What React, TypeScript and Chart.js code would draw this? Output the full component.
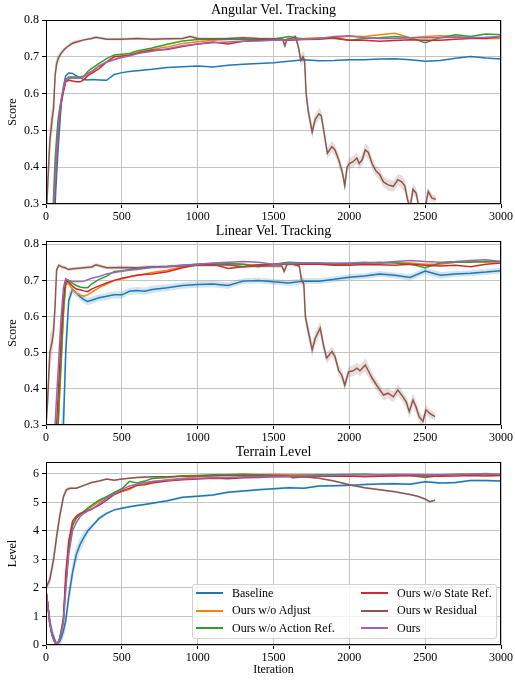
import React, { useEffect, useRef } from "react";
import { Chart, registerables } from "chart.js";

Chart.register(...registerables);

const FONT = "'Liberation Serif', 'Times New Roman', serif";
const GRID = "#c4c4c4";

const SERIES = ["Baseline", "Ours w/o Adjust", "Ours w/o Action Ref.", "Ours w/o State Ref.", "Ours w Residual", "Ours"];
const COLORS = ["#1f77b4", "#ff7f0e", "#2ca02c", "#d62728", "#8c564b", "#9467bd"];
const BAND_COLORS = ["rgba(31,119,180,0.2)", "rgba(255,127,14,0.2)", "rgba(44,160,44,0.2)", "rgba(214,39,40,0.2)", "rgba(140,86,75,0.2)", "rgba(148,103,189,0.2)"];

const X_TICKS = [0, 500, 1000, 1500, 2000, 2500, 3000];
const SCORE_TICKS = [0.3, 0.4, 0.5, 0.6, 0.7, 0.8];
const LEVEL_TICKS = [0, 1, 2, 3, 4, 5, 6];

const ITER = [
  0, 10, 25, 40, 50, 60, 70, 80, 90, 100,
  115, 130, 150, 175, 200, 225, 250, 275, 300, 350,
  400, 450, 500, 550, 600, 650, 700, 800, 900, 1000,
  1100, 1200, 1300, 1400, 1500, 1600, 1700, 1800, 1900, 2000,
  2100, 2200, 2300, 2400, 2500, 2600, 2700, 2800, 2900, 3000,
];

// ---------- Angular Vel. Tracking ----------
const ANG_BASELINE = [
  0.05, 0.05, 0.08, 0.15, 0.22, 0.3, 0.38, 0.45, 0.51, 0.57,
  0.62, 0.648, 0.656, 0.655, 0.648, 0.643, 0.638, 0.637, 0.638, 0.637,
  0.636, 0.652, 0.657, 0.66, 0.662, 0.664, 0.666, 0.671, 0.673, 0.675,
  0.672, 0.677, 0.68, 0.682, 0.684, 0.688, 0.692, 0.689, 0.69, 0.692,
  0.692, 0.694, 0.695, 0.692, 0.688, 0.69, 0.696, 0.701, 0.697, 0.694,
];
const ANG_ADJUST = [
  0.05, 0.05, 0.06, 0.15, 0.28, 0.36, 0.43, 0.5, 0.55, 0.58,
  0.61, 0.635, 0.64, 0.642, 0.642, 0.643, 0.645, 0.652, 0.66, 0.675,
  0.686, 0.693, 0.7, 0.705, 0.712, 0.715, 0.72, 0.727, 0.736, 0.741,
  0.745, 0.747, 0.747, 0.746, 0.747, 0.748, 0.75, 0.752, 0.752, 0.756,
  0.755, 0.76, 0.764, 0.752, 0.755, 0.757, 0.755, 0.752, 0.75, 0.75,
];
const ANG_ACTION = [
  0.05, 0.05, 0.07, 0.2, 0.32, 0.42, 0.48, 0.53, 0.56, 0.58,
  0.61, 0.638, 0.645, 0.645, 0.645, 0.645, 0.648, 0.66, 0.668, 0.682,
  0.695, 0.705, 0.707, 0.709, 0.716, 0.72, 0.724, 0.734, 0.743, 0.747,
  0.748, 0.748, 0.748, 0.748, 0.748, 0.755, 0.748, 0.75, 0.75, 0.745,
  0.75, 0.752, 0.755, 0.752, 0.738, 0.752, 0.76, 0.755, 0.762, 0.76,
];
const ANG_STATE = [
  0.05, 0.05, 0.06, 0.12, 0.26, 0.34, 0.42, 0.49, 0.54, 0.575,
  0.605, 0.632, 0.636, 0.634, 0.632, 0.632, 0.638, 0.648, 0.655, 0.668,
  0.686, 0.7, 0.702, 0.704, 0.71, 0.715, 0.718, 0.72, 0.728, 0.735,
  0.74, 0.735, 0.742, 0.745, 0.746, 0.745, 0.747, 0.748, 0.752, 0.745,
  0.745, 0.742, 0.744, 0.746, 0.745, 0.745, 0.748, 0.75, 0.75, 0.755,
];
const ANG_OURS = [
  0.05, 0.05, 0.06, 0.15, 0.28, 0.36, 0.44, 0.5, 0.55, 0.585,
  0.615, 0.638, 0.642, 0.643, 0.642, 0.642, 0.648, 0.655, 0.66, 0.675,
  0.686, 0.692, 0.698, 0.702, 0.708, 0.712, 0.715, 0.722, 0.73, 0.735,
  0.738, 0.74, 0.742, 0.743, 0.745, 0.746, 0.748, 0.75, 0.755, 0.757,
  0.752, 0.75, 0.75, 0.752, 0.752, 0.752, 0.753, 0.752, 0.753, 0.755,
];
const ANG_RESIDUAL_X = [
  0, 10, 25, 40, 50, 60, 70, 80, 100, 125,
  150, 175, 200, 250, 300, 330, 400, 500, 600, 700,
  800, 900, 950, 1000, 1100, 1200, 1300, 1400, 1500, 1560,
  1575, 1590, 1620, 1645, 1665, 1680, 1695, 1705, 1715, 1730,
  1755, 1775, 1800, 1815, 1835, 1855, 1885, 1905, 1930, 1955,
  1970, 1985, 2000, 2025, 2050, 2065, 2085, 2105, 2125, 2150,
  2175, 2200, 2225, 2255, 2290, 2320, 2345, 2365, 2385, 2400,
  2420, 2440, 2460, 2480, 2500, 2520, 2545, 2570,
];
const ANG_RESIDUAL = [
  0.25, 0.34, 0.47, 0.53, 0.56, 0.65, 0.68, 0.695, 0.71, 0.722,
  0.73, 0.737, 0.74, 0.746, 0.75, 0.753, 0.748, 0.748, 0.75, 0.748,
  0.749, 0.75, 0.755, 0.75, 0.749, 0.75, 0.752, 0.75, 0.749, 0.748,
  0.73, 0.748, 0.75, 0.755, 0.725, 0.69, 0.7, 0.69, 0.6, 0.55,
  0.496, 0.53, 0.545, 0.54, 0.49, 0.438, 0.456, 0.447, 0.42, 0.384,
  0.35, 0.4, 0.41, 0.415, 0.425, 0.41, 0.42, 0.447, 0.44, 0.41,
  0.39, 0.38, 0.36, 0.352, 0.348, 0.366, 0.36, 0.35, 0.31, 0.29,
  0.34, 0.33, 0.29, 0.27, 0.29, 0.334, 0.316, 0.313,
];
// half-width of the shaded band around "Ours w Residual"
const ANG_RESIDUAL_BAND = [
  0.04, 0.05, 0.05, 0.04, 0.04, 0.03, 0.02, 0.012, 0.008, 0.006,
  0.005, 0.005, 0.005, 0.004, 0.004, 0.004, 0.004, 0.004, 0.004, 0.004,
  0.004, 0.004, 0.004, 0.004, 0.004, 0.004, 0.004, 0.004, 0.004, 0.006,
  0.01, 0.006, 0.005, 0.006, 0.012, 0.015, 0.015, 0.02, 0.02, 0.02,
  0.018, 0.015, 0.015, 0.015, 0.015, 0.015, 0.015, 0.015, 0.015, 0.015,
  0.015, 0.015, 0.015, 0.015, 0.015, 0.015, 0.015, 0.018, 0.018, 0.015,
  0.015, 0.015, 0.015, 0.015, 0.015, 0.015, 0.018, 0.018, 0.018, 0.018,
  0.015, 0.015, 0.015, 0.015, 0.015, 0.012, 0.01, 0.01,
];

// ---------- Linear Vel. Tracking ----------
const LIN_BASELINE = [
  0.05, 0.05, 0.05, 0.05, 0.06, 0.08, 0.1, 0.14, 0.18, 0.23,
  0.3, 0.5, 0.645, 0.675, 0.665, 0.655, 0.647, 0.642, 0.645, 0.652,
  0.656, 0.66, 0.66, 0.67, 0.672, 0.67, 0.675, 0.68, 0.686, 0.689,
  0.69, 0.686, 0.698, 0.7, 0.696, 0.693, 0.698, 0.698, 0.703, 0.709,
  0.712, 0.718, 0.714, 0.708, 0.726, 0.714, 0.718, 0.72, 0.723, 0.727,
];
const LIN_BASELINE_BAND = [
  0.02, 0.02, 0.02, 0.02, 0.03, 0.04, 0.05, 0.06, 0.07, 0.08,
  0.08, 0.06, 0.02, 0.012, 0.01, 0.01, 0.01, 0.01, 0.01, 0.01,
  0.01, 0.01, 0.01, 0.01, 0.01, 0.01, 0.01, 0.009, 0.009, 0.009,
  0.009, 0.009, 0.008, 0.008, 0.008, 0.008, 0.008, 0.008, 0.008, 0.008,
  0.008, 0.008, 0.008, 0.009, 0.009, 0.009, 0.008, 0.008, 0.008, 0.008,
];
const LIN_ADJUST = [
  0.05, 0.05, 0.05, 0.05, 0.08, 0.14, 0.22, 0.3, 0.38, 0.47,
  0.6, 0.69, 0.69, 0.675, 0.665, 0.66, 0.656, 0.66, 0.667, 0.68,
  0.69, 0.7, 0.704, 0.71, 0.714, 0.718, 0.722, 0.728, 0.738, 0.745,
  0.746, 0.748, 0.745, 0.742, 0.745, 0.748, 0.748, 0.747, 0.745, 0.745,
  0.748, 0.747, 0.75, 0.748, 0.745, 0.745, 0.75, 0.752, 0.75, 0.752,
];
const LIN_ACTION = [
  0.05, 0.05, 0.05, 0.05, 0.06, 0.1, 0.16, 0.3, 0.4, 0.48,
  0.62, 0.69, 0.7, 0.692, 0.686, 0.682, 0.68, 0.68, 0.69, 0.703,
  0.712, 0.725, 0.727, 0.73, 0.734, 0.735, 0.737, 0.739, 0.742, 0.745,
  0.745, 0.746, 0.745, 0.738, 0.745, 0.75, 0.748, 0.748, 0.745, 0.747,
  0.748, 0.75, 0.748, 0.745, 0.735, 0.748, 0.75, 0.75, 0.752, 0.752,
];
const LIN_STATE = [
  0.05, 0.05, 0.05, 0.05, 0.08, 0.15, 0.3, 0.38, 0.46, 0.55,
  0.65, 0.7, 0.695, 0.684, 0.676, 0.674, 0.671, 0.669, 0.676, 0.685,
  0.693, 0.7, 0.706, 0.71, 0.714, 0.716, 0.718, 0.724, 0.735, 0.743,
  0.745, 0.733, 0.738, 0.743, 0.745, 0.745, 0.745, 0.745, 0.742, 0.742,
  0.744, 0.743, 0.742, 0.745, 0.742, 0.74, 0.742, 0.738, 0.745, 0.748,
];
const LIN_OURS = [
  0.05, 0.05, 0.05, 0.05, 0.15, 0.3, 0.38, 0.45, 0.53, 0.6,
  0.68, 0.705, 0.7, 0.697, 0.697, 0.697, 0.698, 0.702, 0.706, 0.711,
  0.718, 0.722, 0.725, 0.728, 0.73, 0.733, 0.736, 0.738, 0.742, 0.745,
  0.748, 0.75, 0.752, 0.75, 0.745, 0.747, 0.748, 0.748, 0.748, 0.748,
  0.75, 0.748, 0.752, 0.755, 0.752, 0.75, 0.752, 0.755, 0.757, 0.752,
];
const LIN_RESIDUAL_X = [
  0, 10, 25, 40, 50, 60, 70, 85, 100, 125,
  150, 175, 200, 250, 300, 330, 400, 500, 600, 700,
  800, 900, 1000, 1100, 1200, 1300, 1400, 1500, 1555, 1570,
  1590, 1620, 1650, 1670, 1685, 1700, 1710, 1730, 1755, 1775,
  1808, 1830, 1850, 1885, 1905, 1930, 1950, 1970, 1995, 2025,
  2050, 2070, 2105, 2125, 2150, 2180, 2225, 2255, 2290, 2320,
  2350, 2375, 2395, 2420, 2440, 2460, 2485, 2505, 2530, 2565,
];
const LIN_RESIDUAL = [
  0.3, 0.36, 0.5, 0.53, 0.56, 0.63, 0.73, 0.742, 0.738, 0.735,
  0.73, 0.732, 0.733, 0.735, 0.737, 0.743, 0.735, 0.736, 0.735, 0.738,
  0.738, 0.74, 0.742, 0.742, 0.743, 0.738, 0.74, 0.74, 0.74, 0.725,
  0.745, 0.745, 0.742, 0.74, 0.7, 0.69, 0.6, 0.558, 0.508, 0.54,
  0.568, 0.52, 0.485, 0.503, 0.49, 0.45, 0.438, 0.41, 0.447, 0.45,
  0.457, 0.45, 0.466, 0.45, 0.43, 0.41, 0.383, 0.388, 0.378, 0.397,
  0.38, 0.364, 0.337, 0.369, 0.35, 0.323, 0.31, 0.342, 0.332, 0.323,
];
const LIN_RESIDUAL_BAND = [
  0.04, 0.05, 0.05, 0.04, 0.04, 0.03, 0.01, 0.006, 0.005, 0.005,
  0.005, 0.005, 0.005, 0.005, 0.005, 0.005, 0.005, 0.005, 0.005, 0.005,
  0.005, 0.005, 0.005, 0.005, 0.005, 0.005, 0.005, 0.005, 0.006, 0.01,
  0.006, 0.005, 0.005, 0.006, 0.012, 0.015, 0.02, 0.02, 0.02, 0.018,
  0.018, 0.015, 0.015, 0.015, 0.015, 0.015, 0.015, 0.015, 0.015, 0.015,
  0.015, 0.015, 0.018, 0.018, 0.015, 0.015, 0.015, 0.015, 0.015, 0.015,
  0.015, 0.015, 0.018, 0.018, 0.018, 0.015, 0.015, 0.015, 0.012, 0.01,
];

// ---------- Terrain Level ----------
const LEVEL_BASELINE = [
  1.9, 1.5, 0.85, 0.45, 0.3, 0.15, 0.06, 0.07, 0.12, 0.25,
  0.5, 0.85, 1.7, 2.55, 3.18, 3.53, 3.78, 4.0, 4.15, 4.44,
  4.62, 4.74, 4.8, 4.85, 4.89, 4.93, 4.97, 5.06, 5.18, 5.22,
  5.26, 5.36, 5.4, 5.45, 5.48, 5.52, 5.5, 5.58, 5.59, 5.6,
  5.63, 5.65, 5.66, 5.64, 5.73, 5.68, 5.7, 5.77, 5.77, 5.75,
];
const LEVEL_ADJUST = [
  1.9, 1.5, 0.75, 0.35, 0.2, 0.08, 0.05, 0.08, 0.2, 0.45,
  0.9, 2.2, 3.4, 4.2, 4.45, 4.58, 4.7, 4.78, 4.85, 5.03,
  5.2, 5.3, 5.38, 5.45, 5.6, 5.66, 5.73, 5.8, 5.85, 5.9,
  5.93, 5.97, 6.0, 5.97, 5.98, 5.97, 5.97, 5.96, 5.97, 5.98,
  5.98, 5.97, 5.98, 5.97, 5.95, 5.97, 5.99, 6.0, 5.98, 5.98,
];
const LEVEL_ACTION = [
  1.9, 1.5, 0.75, 0.35, 0.2, 0.08, 0.06, 0.1, 0.25, 0.5,
  0.95, 2.1, 3.3, 4.2, 4.45, 4.57, 4.68, 4.8, 4.9, 5.08,
  5.2, 5.35, 5.48, 5.74, 5.68, 5.75, 5.84, 5.88, 5.94, 5.95,
  5.97, 5.97, 5.98, 5.97, 5.95, 5.93, 5.95, 5.97, 5.97, 5.98,
  5.99, 5.96, 5.95, 5.95, 5.88, 5.95, 5.98, 5.99, 5.98, 5.98,
];
const LEVEL_STATE = [
  1.9, 1.5, 0.75, 0.35, 0.2, 0.08, 0.05, 0.08, 0.2, 0.45,
  0.9, 2.5, 3.65, 4.35, 4.52, 4.62, 4.66, 4.72, 4.77, 4.9,
  5.08, 5.28, 5.4, 5.5, 5.6, 5.62, 5.68, 5.75, 5.8, 5.82,
  5.85, 5.83, 5.87, 5.88, 5.9, 5.9, 5.9, 5.92, 5.92, 5.93,
  5.9, 5.92, 5.93, 5.95, 5.93, 5.92, 5.93, 5.95, 5.93, 5.95,
];
const LEVEL_OURS = [
  1.9, 1.5, 0.75, 0.35, 0.2, 0.08, 0.06, 0.1, 0.22, 0.4,
  0.8, 1.9, 3.2, 4.0, 4.3, 4.5, 4.62, 4.7, 4.75, 4.95,
  5.15, 5.3, 5.45, 5.58, 5.64, 5.7, 5.74, 5.78, 5.82, 5.85,
  5.87, 5.88, 5.9, 5.9, 5.9, 5.92, 5.93, 5.95, 5.95, 5.96,
  5.97, 5.97, 5.98, 5.98, 5.97, 5.97, 5.98, 5.99, 6.02, 5.98,
];
const LEVEL_RESIDUAL_X = [
  0, 25, 50, 70, 90, 115, 135, 160, 200, 250,
  300, 350, 400, 450, 500, 600, 700, 800, 900, 1000,
  1200, 1400, 1600, 1625, 1700, 1800, 1900, 2000, 2100, 2200,
  2300, 2400, 2450, 2500, 2530, 2565,
];
const LEVEL_RESIDUAL = [
  2.0, 2.3, 3.0, 3.8, 4.5, 5.2, 5.45, 5.5, 5.5, 5.6,
  5.7, 5.75, 5.82, 5.78, 5.82, 5.88, 5.9, 5.9, 5.92, 5.93,
  5.95, 5.95, 5.95, 5.87, 5.9, 5.85, 5.75, 5.62, 5.52, 5.45,
  5.38, 5.28, 5.22, 5.12, 5.03, 5.08,
];
const LEVEL_RESIDUAL_BAND = [
  0.1, 0.2, 0.3, 0.3, 0.25, 0.15, 0.08, 0.05, 0.04, 0.03,
  0.03, 0.03, 0.03, 0.03, 0.03, 0.03, 0.03, 0.03, 0.03, 0.03,
  0.03, 0.03, 0.03, 0.03, 0.03, 0.03, 0.03, 0.03, 0.03, 0.03,
  0.03, 0.03, 0.03, 0.03, 0.03, 0.03,
];
const LEVEL_BASELINE_BAND = [
  0.1, 0.15, 0.2, 0.2, 0.15, 0.1, 0.08, 0.1, 0.15, 0.2,
  0.25, 0.3, 0.35, 0.35, 0.3, 0.25, 0.2, 0.12, 0.08, 0.06,
  0.05, 0.04, 0.04, 0.04, 0.04, 0.04, 0.04, 0.04, 0.04, 0.04,
  0.04, 0.04, 0.04, 0.04, 0.04, 0.04, 0.04, 0.04, 0.04, 0.04,
  0.04, 0.04, 0.04, 0.04, 0.04, 0.04, 0.04, 0.04, 0.04, 0.04,
];

type Line = { xs: number[]; ys: number[]; band?: number[] };

const framePlugin = {
  id: "frame",
  afterDraw(chart: any) {
    const { ctx, chartArea: a } = chart;
    ctx.save();
    ctx.strokeStyle = "#000";
    ctx.lineWidth = 1;
    ctx.strokeRect(a.left + 0.5, a.top + 0.5, a.right - a.left - 1, a.bottom - a.top - 1);
    ctx.restore();
  },
};

type PanelProps = {
  top: number;
  height: number;
  title: string;
  titlePad: number;
  yTitle: string;
  yMin: number;
  yMax: number;
  yTicks: number[];
  yDigits: number;
  axisH: number;
  xTitle?: string;
  lines: Line[];
};

function buildDatasets(lines: Line[]) {
  const out: any[] = [];
  lines.forEach((l, i) => {
    if (l.band) {
      const band = l.band;
      out.push({
        label: SERIES[i] + " upper",
        data: l.xs.map((x, k) => ({ x, y: l.ys[k] + band[k] })),
        borderWidth: 0,
        borderColor: "rgba(0,0,0,0)",
        pointRadius: 0,
        fill: false,
        order: 100,
      });
      out.push({
        label: SERIES[i] + " lower",
        data: l.xs.map((x, k) => ({ x, y: l.ys[k] - band[k] })),
        borderWidth: 0,
        borderColor: "rgba(0,0,0,0)",
        backgroundColor: BAND_COLORS[i],
        pointRadius: 0,
        fill: "-1",
        order: 100,
      });
    }
  });
  lines.forEach((l, i) => {
    out.push({
      label: SERIES[i],
      data: l.xs.map((x, k) => ({ x, y: l.ys[k] })),
      borderColor: COLORS[i],
      backgroundColor: COLORS[i],
      borderWidth: 1.5,
      pointRadius: 0,
      tension: 0,
      fill: false,
      order: lines.length - i,
    });
  });
  return out;
}

function Panel(p: PanelProps) {
  const ref = useRef<HTMLCanvasElement>(null);
  useEffect(() => {
    const tickFont = { family: FONT, size: 12 };
    const chart = new Chart(ref.current as HTMLCanvasElement, {
      type: "line",
      data: { datasets: buildDatasets(p.lines) },
      options: {
        responsive: false,
        animation: false,
        devicePixelRatio: 1,
        layout: { padding: { left: 0, right: 12, top: 0, bottom: 0 } },
        plugins: {
          legend: { display: false },
          tooltip: { enabled: false },
          filler: { propagate: false },
          title: {
            display: true,
            text: p.title,
            fullSize: false,
            color: "#000",
            font: { family: FONT, size: 14, weight: "normal", lineHeight: 1.2 },
            padding: { top: p.titlePad, bottom: p.titlePad },
          },
        },
        scales: {
          x: {
            type: "linear",
            min: 0,
            max: 3000,
            afterBuildTicks: (s: any) => {
              s.ticks = X_TICKS.map((v) => ({ value: v }));
            },
            afterFit: (s: any) => {
              s.height = p.axisH;
            },
            border: { display: false },
            grid: { color: GRID, lineWidth: 1, tickColor: "#000", tickLength: 4, tickWidth: 1 },
            ticks: {
              color: "#000",
              font: tickFont,
              padding: 2,
              maxRotation: 0,
              autoSkip: false,
              callback: (v: any) => String(v),
            },
            title: p.xTitle
              ? { display: true, text: p.xTitle, color: "#000", font: tickFont, padding: { top: 0, bottom: 4 } }
              : { display: false },
          },
          y: {
            type: "linear",
            min: p.yMin,
            max: p.yMax,
            afterBuildTicks: (s: any) => {
              s.ticks = p.yTicks.map((v) => ({ value: v }));
            },
            afterFit: (s: any) => {
              s.width = 46;
            },
            border: { display: false },
            grid: { color: GRID, lineWidth: 1, tickColor: "#000", tickLength: 4, tickWidth: 1 },
            ticks: {
              color: "#000",
              font: tickFont,
              padding: 3,
              autoSkip: false,
              callback: (v: any) => Number(v).toFixed(p.yDigits),
            },
            title: { display: true, text: p.yTitle, color: "#000", font: tickFont, padding: { top: 6, bottom: 0 } },
          },
        },
      } as any,
      plugins: [framePlugin],
    });
    return () => chart.destroy();
  }, []);
  return (
    <canvas
      ref={ref}
      width={515}
      height={p.height}
      style={{ position: "absolute", left: 0, top: p.top, display: "block" }}
    />
  );
}

function Legend() {
  return (
    <div
      style={{
        position: "absolute",
        left: 192,
        top: 584,
        width: 305,
        height: 55,
        boxSizing: "border-box",
        border: "1px solid #d3d3d3",
        borderRadius: 3,
        background: "rgba(255,255,255,0.8)",
        fontFamily: FONT,
        fontSize: 12,
        color: "#000",
      }}
    >
      {SERIES.map((name, i) => {
        const col = Math.floor(i / 3);
        const row = i % 3;
        return (
          <div
            key={name}
            style={{
              position: "absolute",
              left: col === 0 ? 3 : 168,
              top: -0.75 + row * 17.5,
              height: 17.5,
              display: "flex",
              alignItems: "center",
              whiteSpace: "nowrap",
            }}
          >
            <span style={{ display: "inline-block", width: 27, height: 2, background: COLORS[i], marginRight: 9 }} />
            <span>{name}</span>
          </div>
        );
      })}
    </div>
  );
}

export default function App() {
  const ang: Line[] = [
    { xs: ITER, ys: ANG_BASELINE },
    { xs: ITER, ys: ANG_ADJUST },
    { xs: ITER, ys: ANG_ACTION },
    { xs: ITER, ys: ANG_STATE },
    { xs: ANG_RESIDUAL_X, ys: ANG_RESIDUAL, band: ANG_RESIDUAL_BAND },
    { xs: ITER, ys: ANG_OURS },
  ];
  const lin: Line[] = [
    { xs: ITER, ys: LIN_BASELINE, band: LIN_BASELINE_BAND },
    { xs: ITER, ys: LIN_ADJUST },
    { xs: ITER, ys: LIN_ACTION },
    { xs: ITER, ys: LIN_STATE },
    { xs: LIN_RESIDUAL_X, ys: LIN_RESIDUAL, band: LIN_RESIDUAL_BAND },
    { xs: ITER, ys: LIN_OURS },
  ];
  const lvl: Line[] = [
    { xs: ITER, ys: LEVEL_BASELINE, band: LEVEL_BASELINE_BAND },
    { xs: ITER, ys: LEVEL_ADJUST },
    { xs: ITER, ys: LEVEL_ACTION },
    { xs: ITER, ys: LEVEL_STATE },
    { xs: LEVEL_RESIDUAL_X, ys: LEVEL_RESIDUAL, band: LEVEL_RESIDUAL_BAND },
    { xs: ITER, ys: LEVEL_OURS },
  ];
  return (
    <div style={{ position: "absolute", left: 0, top: 0, width: 515, height: 681, background: "#fff", overflow: "hidden" }}>
      <Panel top={0} height={222} title="Angular Vel. Tracking" titlePad={1.6} yTitle="Score" yMin={0.3} yMax={0.8} yTicks={SCORE_TICKS} yDigits={1} axisH={18} lines={ang} />
      <Panel top={222} height={221} title="Linear Vel. Tracking" titlePad={1.1} yTitle="Score" yMin={0.3} yMax={0.809} yTicks={SCORE_TICKS} yDigits={1} axisH={18} lines={lin} />
      <Panel top={443} height={238} title="Terrain Level" titlePad={1.1} yTitle="Level" yMin={0} yMax={6.42} yTicks={LEVEL_TICKS} yDigits={0} axisH={36} xTitle="Iteration" lines={lvl} />
      <Legend />
    </div>
  );
}
